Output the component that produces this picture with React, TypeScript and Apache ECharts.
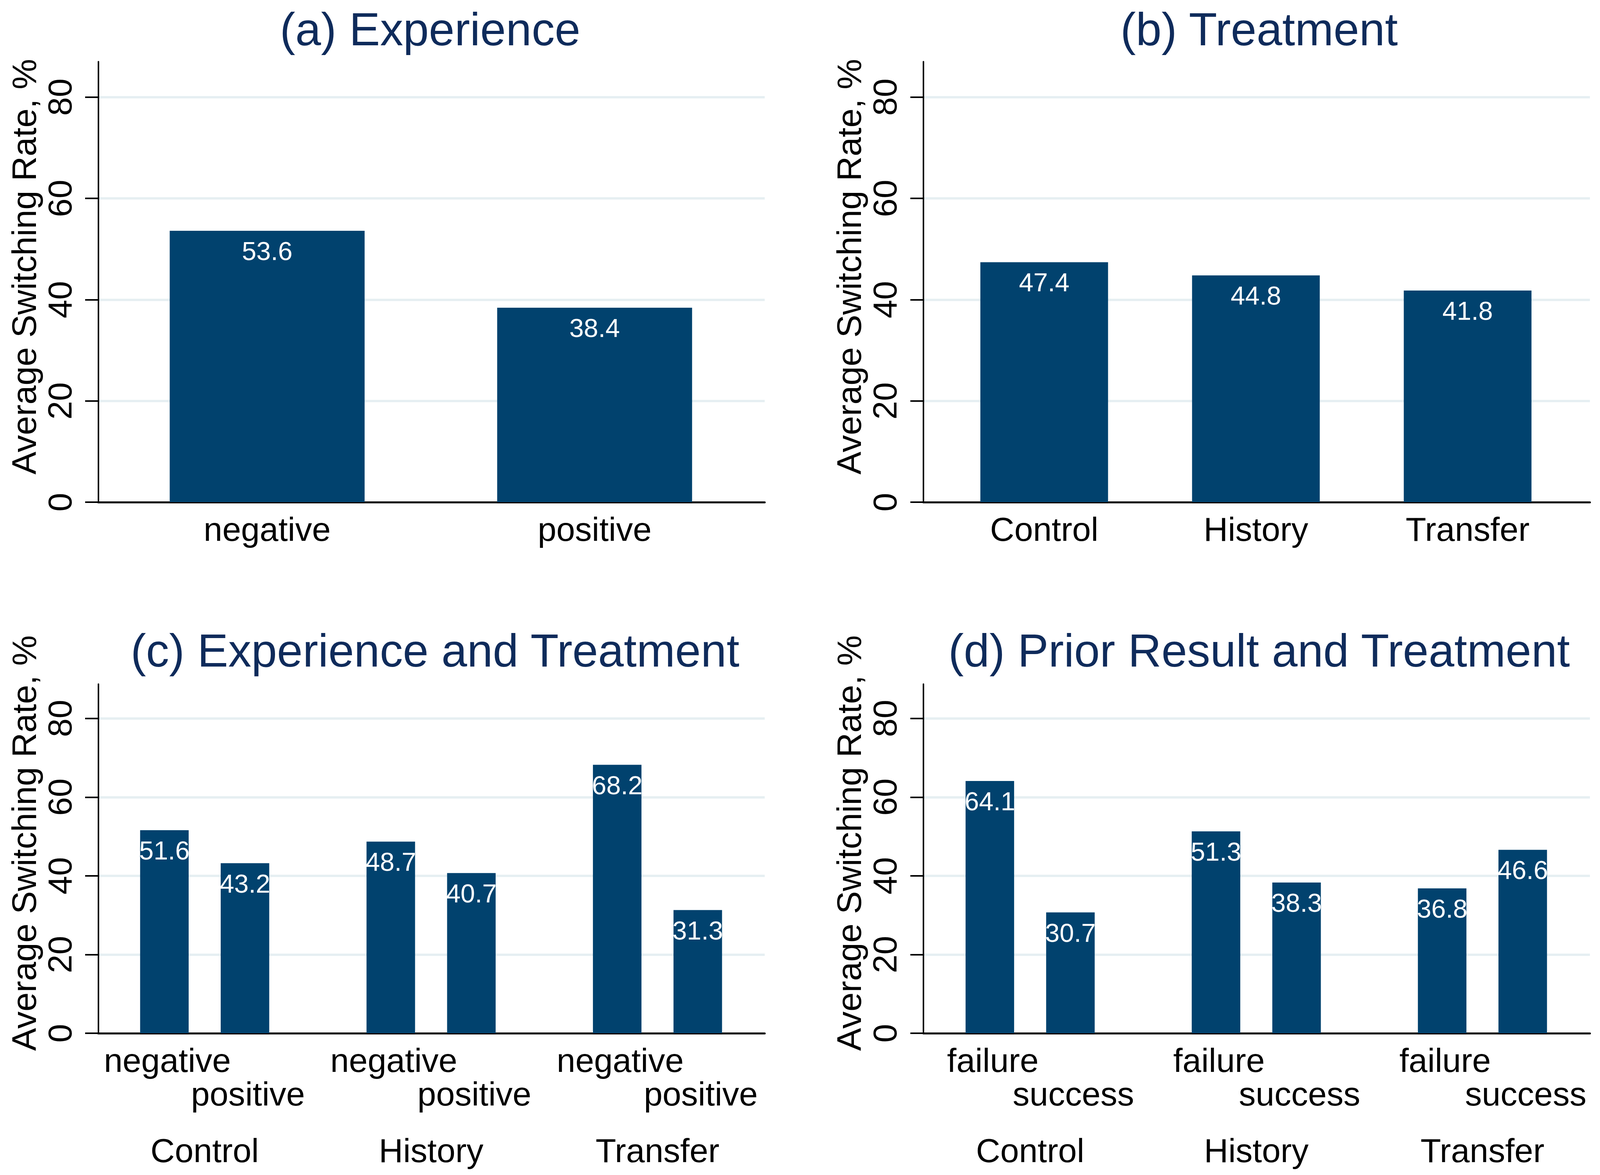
import React, { useEffect, useRef } from "react";
import * as echarts from "echarts";

// ---- data ----
const experienceCategories = ["negative", "positive"];
const experienceValues = [53.6, 38.4];

const treatmentCategories = ["Control", "History", "Transfer"];
const treatmentValues = [47.4, 44.8, 41.8];

const experienceSubgroups = ["negative", "positive"];
const expTreatNegative = [51.6, 48.7, 68.2];
const expTreatPositive = [43.2, 40.7, 31.3];

const priorSubgroups = ["failure", "success"];
const priorFailure = [64.1, 51.3, 36.8];
const priorSuccess = [30.7, 38.3, 46.6];

const yTicks = [0, 20, 40, 60, 80];
const panelTitles = [
  "(a) Experience",
  "(b) Treatment",
  "(c) Experience and Treatment",
  "(d) Prior Result and Treatment",
];
const yTitle = "Average Switching Rate, %";

// ---- styling ----
const FONT = '"Liberation Sans", Arial, Helvetica, sans-serif';
const BAR = "#01426e";
const TITLE = "#0f2b5b";
const GRIDLINE = "#e6eff2";
const REF_W = 4285;
const REF_H = 3009;

export default function App() {
  const ref = useRef<HTMLDivElement>(null);

  useEffect(() => {
    const el = ref.current;
    if (!el) return;
    const W = el.clientWidth || REF_W;
    const H = el.clientHeight || REF_H;
    const sx = W / REF_W;
    const sy = H / REF_H;
    const sk = Math.sqrt(sx * sy);
    const X = (v: number) => v * sx;
    const Y = (v: number) => v * sy;
    const k = (v: number) => v * sk;

    const chart = echarts.init(el, undefined, { renderer: "svg" });

    const layouts = [
      { left: 263, top: 158, width: 1785, height: 1128, innerLeft: 277, innerWidth: 1754, max: 87, tx: 1152, ty: 75, catMargin: 26, yShift: 78 },
      { left: 2473, top: 158, width: 1785, height: 1128, innerLeft: 2513, innerWidth: 1701, max: 87, tx: 3372, ty: 75, catMargin: 26, yShift: 78 },
      { left: 263, top: 1752, width: 1785, height: 894, innerLeft: 245, innerWidth: 1819, max: 88.7, tx: 1165, ty: 1666, catMargin: 257, yShift: 80 },
      { left: 2473, top: 1752, width: 1785, height: 894, innerLeft: 2456, innerWidth: 1817, max: 88.7, tx: 3372, ty: 1666, catMargin: 257, yShift: 80 },
    ];
    const categories = [experienceCategories, treatmentCategories, treatmentCategories, treatmentCategories];

    const grid: any[] = [];
    const xAxis: any[] = [];
    const yAxis: any[] = [];
    layouts.forEach((L, p) => {
      grid.push({ left: X(L.left), top: Y(L.top), width: X(L.width), height: Y(L.height), containLabel: false });
      grid.push({ left: X(L.innerLeft), top: Y(L.top), width: X(L.innerWidth), height: Y(L.height), containLabel: false });
      // outer axes: frame, ticks, gridlines
      xAxis.push({
        gridIndex: 2 * p,
        type: "value",
        min: 0,
        max: 1,
        axisLine: { show: true, onZero: false, lineStyle: { color: "#000", width: Y(5) } },
        axisTick: { show: false },
        axisLabel: { show: false },
        splitLine: { show: false },
      });
      yAxis.push({
        gridIndex: 2 * p,
        type: "value",
        min: 0,
        max: L.max,
        name: yTitle,
        nameLocation: "middle",
        nameGap: X(153),
        nameTextStyle: { fontSize: k(90), color: "#000", fontFamily: FONT, padding: [0, 0, 0, Y(L.yShift)] },
        axisLine: { show: true, onZero: false, lineStyle: { color: "#000", width: X(4) } },
        axisTick: { show: true, length: X(35), customValues: yTicks, lineStyle: { color: "#000", width: Y(4) } },
        axisLabel: {
          show: true,
          customValues: yTicks,
          rotate: 90,
          margin: X(58),
          fontSize: k(88),
          color: "#000",
          fontFamily: FONT,
        },
        splitLine: { show: true, showMinLine: false, lineStyle: { color: GRIDLINE, width: Y(6) } },
      });
      // inner axes: bar placement and category labels
      xAxis.push({
        gridIndex: 2 * p + 1,
        type: "category",
        data: categories[p],
        axisLine: { show: false },
        axisTick: { show: false },
        axisLabel: { show: true, margin: Y(L.catMargin), fontSize: k(88), color: "#000", fontFamily: FONT },
        splitLine: { show: false },
      });
      yAxis.push({
        gridIndex: 2 * p + 1,
        type: "value",
        min: 0,
        max: L.max,
        show: false,
        splitLine: { show: false },
      });
    });

    const valueLabel = {
      show: true,
      position: "insideTop",
      distance: Y(19),
      fontSize: k(68),
      color: "#fff",
      fontFamily: FONT,
      formatter: (pr: any) => Number(pr.value).toFixed(1),
    };

    const subLabel = (name: string, dy: number) => ({
      symbol: "rect",
      symbolSize: 1,
      silent: true,
      itemStyle: { color: "rgba(0,0,0,0)" },
      label: {
        show: true,
        position: "inside",
        offset: [X(8), Y(dy)],
        formatter: name,
        fontSize: k(88),
        color: "#000",
        fontFamily: FONT,
      },
      data: treatmentCategories.map((c) => ({ coord: [c, 0], name })),
    });

    const pairSeries = (p: number, names: string[], a: number[], b: number[]) => [
      {
        type: "bar",
        name: names[0],
        xAxisIndex: 2 * p + 1,
        yAxisIndex: 2 * p + 1,
        data: a,
        barWidth: X(130),
        barGap: "66%",
        itemStyle: { color: BAR },
        label: valueLabel,
        markPoint: subLabel(names[0], 69),
      },
      {
        type: "bar",
        name: names[1],
        xAxisIndex: 2 * p + 1,
        yAxisIndex: 2 * p + 1,
        data: b,
        barWidth: X(130),
        barGap: "66%",
        itemStyle: { color: BAR },
        label: valueLabel,
        markPoint: subLabel(names[1], 155),
      },
    ];

    const series: any[] = [
      {
        type: "bar",
        xAxisIndex: 1,
        yAxisIndex: 1,
        data: experienceValues,
        barWidth: X(522),
        itemStyle: { color: BAR },
        label: valueLabel,
      },
      {
        type: "bar",
        xAxisIndex: 3,
        yAxisIndex: 3,
        data: treatmentValues,
        barWidth: X(342),
        itemStyle: { color: BAR },
        label: valueLabel,
      },
      ...pairSeries(2, experienceSubgroups, expTreatNegative, expTreatPositive),
      ...pairSeries(3, priorSubgroups, priorFailure, priorSuccess),
    ];

    const graphic = layouts.map((L, p) => ({
      type: "text",
      x: X(L.tx),
      y: Y(L.ty),
      silent: true,
      style: {
        text: panelTitles[p],
        fontSize: k(121),
        fontFamily: FONT,
        fill: TITLE,
        align: "center",
        verticalAlign: "middle",
      },
    }));

    chart.setOption({
      animation: false,
      backgroundColor: "#ffffff",
      textStyle: { fontFamily: FONT },
      grid,
      xAxis,
      yAxis,
      series,
      graphic,
    });

    const onResize = () => chart.resize();
    window.addEventListener("resize", onResize);
    return () => {
      window.removeEventListener("resize", onResize);
      chart.dispose();
    };
  }, []);

  return (
    <div
      ref={ref}
      style={{ position: "fixed", left: 0, top: 0, width: "100vw", height: "100vh", background: "#fff" }}
    />
  );
}
